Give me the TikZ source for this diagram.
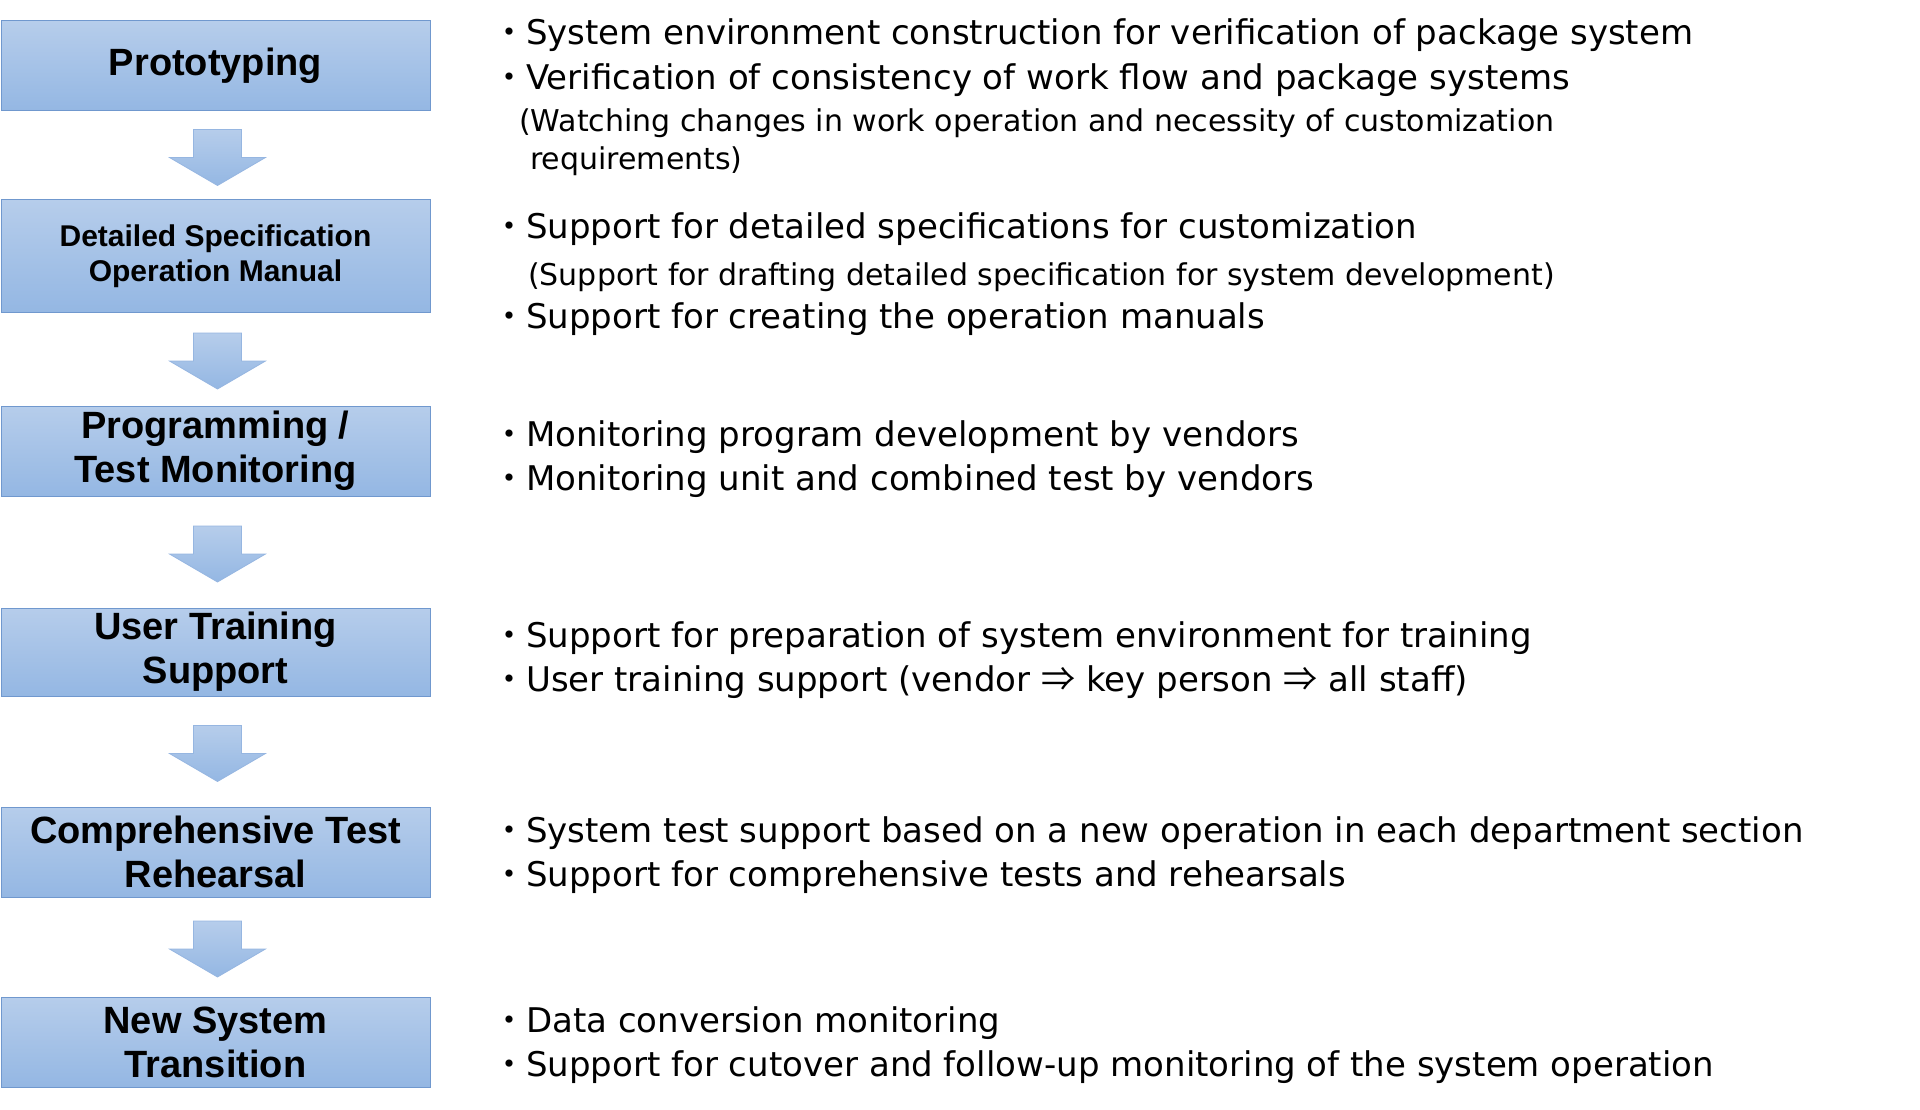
\documentclass[tikz,border=0pt]{standalone}
\usepackage{fontspec}
\setmainfont{DejaVu Sans}
\newfontfamily\stagefont{Liberation Sans}
\newfontfamily\cjk{Noto Sans CJK JP}
\usetikzlibrary{calc,positioning}
\definecolor{boxtop}{RGB}{182,205,235}
\definecolor{boxbot}{RGB}{148,183,227}
\definecolor{boxline}{RGB}{112,152,206}
\definecolor{arwline}{RGB}{150,182,225}

\begin{document}
\begin{tikzpicture}[x=1pt,y=-1pt,
  stage/.style={draw=boxline,line width=1pt,top color=boxtop,bottom color=boxbot,minimum width=429,minimum height=90,inner sep=0pt,align=center,font=\stagefont\bfseries\fontsize{38}{44}\selectfont},
  arw/.style={draw=arwline,line width=.8pt,top color=boxtop,bottom color=boxbot},
  txt/.style={anchor=base west,inner sep=0pt,font=\fontsize{34}{40}\selectfont},
  sub/.style={anchor=base west,inner sep=0pt,font=\fontsize{30}{36}\selectfont}]
  \useasboundingbox (0,0) rectangle (1920,1110);

  % stages on the left
  \node[stage] (proto) at (215.5,66) {Prototyping};
  \node[stage,minimum height=112,font=\stagefont\bfseries\fontsize{30}{35}\selectfont] (spec) at (215.5,256) {Detailed Specification\\Operation Manual};
  \node[stage] (prog) at (215.5,451) {Programming /\\Test Monitoring};
  \node[stage,minimum height=88] (train) at (215.5,652) {User Training\\Support};
  \node[stage] (comp) at (215.5,852) {Comprehensive Test\\Rehearsal};
  \node[stage] (trans) at (215.5,1042) {New System\\Transition};

  % block arrows between stages
  \foreach \a/\b in {proto/spec,spec/prog,prog/train,train/comp,comp/trans}
    \draw[arw] ($(\a.south)!.5!(\b.north)+(-22,-26)$) -- ++(48,0) -- ++(0,28) -- ++(24,0) -- ++(-48,28) -- ++(-48,-28) -- ++(24,0) -- cycle;

  % notes on the right
  \node[txt] (proto1) at (492,45) {{\cjk ・}System environment construction for verification of package system};
  \node[txt] (proto2) at (492,90) {{\cjk ・}Verification of consistency of work flow and package systems};
  \node[sub] (proto3) at (519,132) {(Watching changes in work operation and necessity of customization};
  \node[sub] (proto4) at (530,170) {requirements)};

  \node[txt] (spec1) at (492,239) {{\cjk ・}Support for detailed specifications for customization};
  \node[sub] (spec2) at (528,285) {(Support for drafting detailed specification for system development)};
  \node[txt] (spec3) at (492,328) {{\cjk ・}Support for creating the operation manuals};

  \node[txt] (prog1) at (492,446) {{\cjk ・}Monitoring program development by vendors};
  \node[txt] (prog2) at (492,490) {{\cjk ・}Monitoring unit and combined test by vendors};

  \node[txt] (train1) at (492,647) {{\cjk ・}Support for preparation of system environment for training};
  \node[txt] (train2) at (492,691) {{\cjk ・}User training support (vendor {\cjk ⇒} key person {\cjk ⇒} all staff)};

  \node[txt] (comp1) at (492,842) {{\cjk ・}System test support based on a new operation in each department section};
  \node[txt] (comp2) at (492,886) {{\cjk ・}Support for comprehensive tests and rehearsals};

  \node[txt] (trans1) at (492,1032) {{\cjk ・}Data conversion monitoring};
  \node[txt] (trans2) at (492,1076) {{\cjk ・}Support for cutover and follow-up monitoring of the system operation};
\end{tikzpicture}
\end{document}
